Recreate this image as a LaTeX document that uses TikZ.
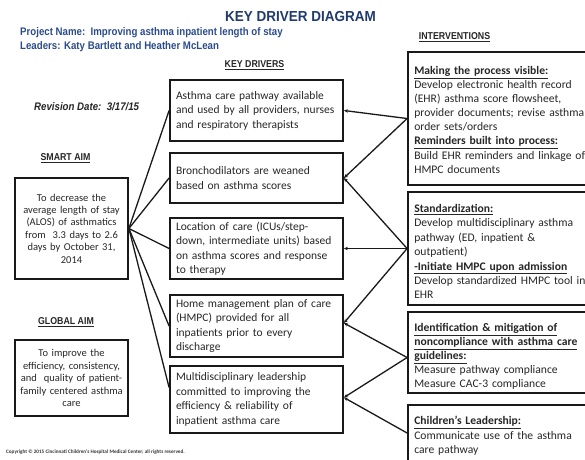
\documentclass[tikz,border=0pt]{standalone}
\usepackage{fontspec}
\setmainfont{Carlito}
\newfontfamily\narrowfont[FakeStretch=0.88]{Liberation Sans}
\newfontfamily\titlefont[FakeStretch=0.93]{Liberation Sans}
\usetikzlibrary{arrows.meta}
\definecolor{titleblue}{HTML}{1F3A6E}
\definecolor{projblue}{HTML}{2B4C8C}
\definecolor{txt}{HTML}{262626}
\begin{document}
\begin{tikzpicture}[x=1pt,y=-1pt,
  box/.style={draw=black!90, line width=1.8pt, inner sep=0pt},
  drv/.style={box, minimum width=173pt, text width=161pt, inner xsep=6pt, align=left,
    font=\fontsize{11.5}{14.5}\selectfont, text=txt},
  aim/.style={box, minimum width=113pt, text width=105pt, inner xsep=4pt, align=center,
    font=\fontsize{10.5}{12.4}\selectfont, text=txt},
  ibox/.style={box, minimum width=192pt},
  itext/.style={anchor=north west, inner sep=0pt, align=left, text width=185pt,
    font=\fontsize{11.6}{14.3}\selectfont, text=txt},
  hdr/.style={font=\narrowfont\bfseries\fontsize{10}{11}\selectfont, text=black!85, inner sep=0pt},
  conn/.style={line width=1.3pt, black!90},
  arr/.style={conn, -{Stealth[length=4pt,width=3.5pt]}}
]
\useasboundingbox (0,0) rectangle (585,459);
% titles
\node[font=\titlefont\bfseries\fontsize{14.5}{16}\selectfont, text=titleblue, inner sep=0pt] (title) at (300.5,17) {KEY DRIVER DIAGRAM};
\node[anchor=west, font=\narrowfont\bfseries\fontsize{11}{12}\selectfont, text=projblue, inner sep=0pt] (proj) at (20,33) {Project Name:\ \ Improving asthma inpatient length of stay};
\node[anchor=west, font=\narrowfont\bfseries\fontsize{11}{12}\selectfont, text=projblue, inner sep=0pt] (lead) at (20,47) {Leaders: Katy Bartlett and Heather McLean};
\node[hdr] (hkd) at (254.5,65) {\underline{KEY DRIVERS}};
\node[hdr] (hint) at (454.5,37) {\underline{INTERVENTIONS}};
\node[hdr] (hsa) at (65.5,158) {\underline{SMART AIM}};
\node[hdr] (hga) at (66,322) {\underline{GLOBAL AIM}};
\node[anchor=west, font=\narrowfont\bfseries\itshape\fontsize{11}{12}\selectfont, text=black!85, inner sep=0pt] (rev) at (34,107) {Revision Date:\ \ 3/17/15};
\node[anchor=west, font=\bfseries\fontsize{5.2}{6}\selectfont, text=black!80, inner sep=0pt] (copy) at (6,452) {Copyright © 2015 Cincinnati Children's Hospital Medical Center; all rights reserved.};
% aims
\node[aim, minimum height=101pt] (smart) at (71.5,228.5) {To decrease the\\average length of stay\\(ALOS) of asthmatics\\from\ \ 3.3 days to 2.6\\days by October 31,\\2014};
\node[aim, minimum height=76pt] (global) at (71.5,378) {To improve the\\efficiency, consistency,\\and\ \ quality of patient-\\family centered asthma\\care};
% drivers
\node[drv, minimum height=61pt] (d1) at (256.5,110.5) {Asthma care pathway available\\and used by all providers, nurses\\and respiratory therapists};
\node[drv, minimum height=50pt] (d2) at (256.5,178) {Bronchodilators are weaned\\based on asthma scores};
\node[drv, minimum height=61pt] (d3) at (256.5,248.5) {Location of care (ICUs/step-\\down, intermediate units) based\\on asthma scores and response\\to therapy};
\node[drv, minimum height=62pt] (d4) at (256.5,326) {Home management plan of care\\(HMPC) provided for all\\inpatients prior to every\\discharge};
\node[drv, minimum height=67pt] (d5) at (256.5,399.5) {Multidisciplinary leadership\\committed to improving the\\efficiency \& reliability of\\inpatient asthma care};
% interventions
\node[ibox, minimum height=133pt] (i1) at (504,118.5) {};
\node[ibox, minimum height=113pt] (i2) at (504,248.5) {};
\node[ibox, minimum height=81pt] (i3) at (504,352.5) {};
\node[ibox, minimum height=56pt] (i4) at (504,433) {};
\node[itext, font=\fontsize{11.6}{14.1}\selectfont] (t1) at ([shift={(7,15)}]i1.north west) {\underline{\textbf{Making the process visible:}}\\Develop electronic health record\\(EHR) asthma score flowsheet,\\provider documents; revise asthma\\order sets/orders\\\underline{\textbf{Reminders built into process:}}\\Build EHR reminders and linkage of\\HMPC documents};
\node[itext, font=\fontsize{11.6}{14.4}\selectfont] (t2) at ([shift={(7,13)}]i2.north west) {\underline{\textbf{Standardization:}}\\Develop multidisciplinary asthma\\pathway (ED, inpatient \&\\outpatient)\\\underline{\textbf{-Initiate HMPC upon admission}}\\Develop standardized HMPC tool in\\EHR};
\node[itext, font=\fontsize{11.6}{14}\selectfont] (t3) at ([shift={(7,12.5)}]i3.north west) {\underline{\textbf{Identification \& mitigation of}}\\\underline{\textbf{noncompliance with asthma care}}\\\underline{\textbf{guidelines:}}\\Measure pathway compliance\\Measure CAC-3 compliance};
\node[itext] (t4) at ([shift={(7,12)}]i4.north west) {\underline{\textbf{Children's Leadership:}}\\Communicate use of the asthma\\care pathway};
% left fan
\draw[conn] (smart.east) -- (d1.west);
\draw[conn] (smart.east) -- (d2.west);
\draw[conn] (smart.east) -- (d3.west);
\draw[conn] (smart.east) -- (d4.west);
\draw[conn] (smart.east) -- ([yshift=12pt]d5.west);
% right connectors
\coordinate (i3p) at ([yshift=-5pt]i3.west);
\draw[arr] (i1.west) -- (d1.east);
\draw[arr] (i1.west) -- (d2.east);
\draw[arr] (i2.west) -- (d2.east);
\draw[arr] (i2.west) -- (d3.east);
\draw[arr] (i2.west) -- ([yshift=3pt]d4.east);
\draw[arr] (i3p) -- ([yshift=3pt]d4.east);
\draw[arr] (i3p) -- ([yshift=2pt]d5.east);
\draw[arr] (i4.west) -- ([yshift=2pt]d5.east);
\end{tikzpicture}
\end{document}
